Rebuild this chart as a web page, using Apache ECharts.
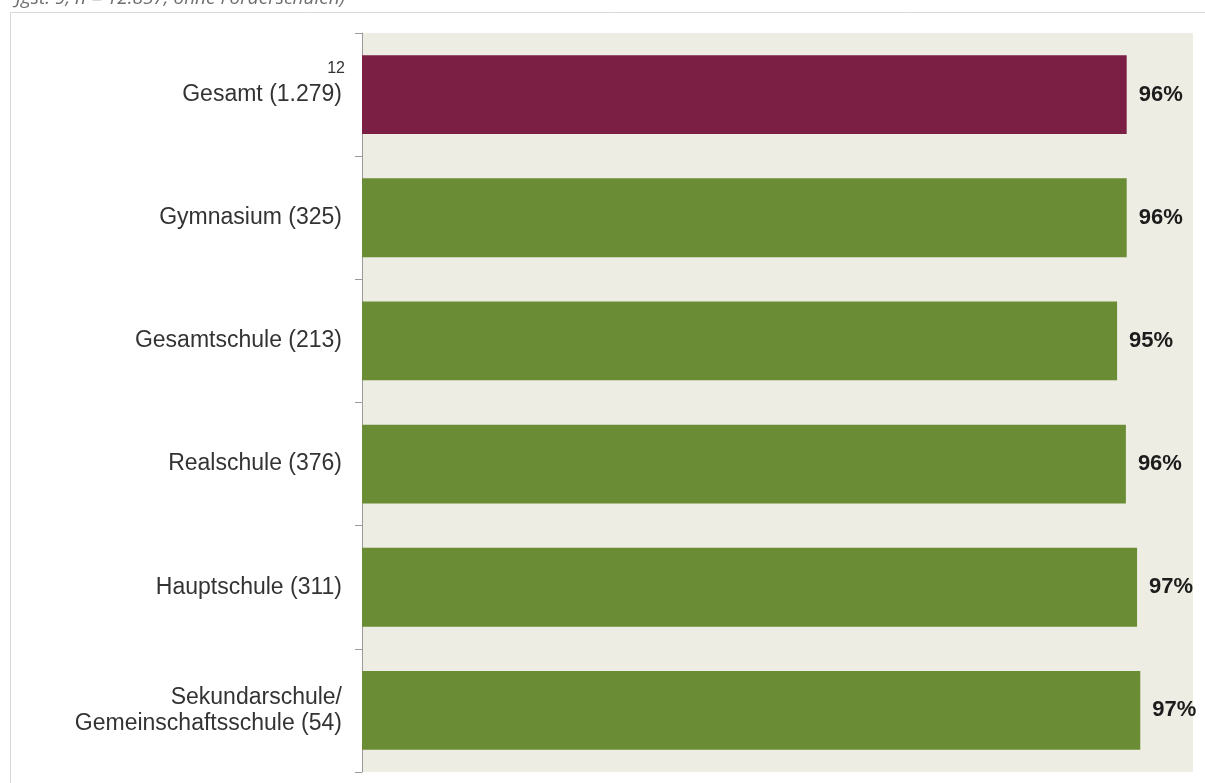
<!DOCTYPE html>
<html>
<head>
<meta charset="utf-8">
<script src="https://cdn.jsdelivr.net/npm/echarts@6/dist/echarts.min.js"></script>
<style>
  html, body { margin: 0; padding: 0; background: #ffffff; }
  #chart { width: 1205px; height: 783px; }
</style>
</head>
<body>
<div id="chart"></div>
<script>
// School types with number of respondents
const categories = ['Gesamt', 'Gymnasium', 'Gesamtschule', 'Realschule', 'Hauptschule', 'Sekundarschule/\nGemeinschaftsschule'];
const counts = ['1.279', '325', '213', '376', '311', '54'];
// Share of agreement in percent
const values = [95.7, 95.7, 94.5, 95.6, 97.0, 97.4];
// Footnote marker shown above the total row
const footnote = '12';
const subtitle = 'Jgst. 9, n = 12.857, ohne Förderschulen)';

const colorTotal = '#7b1f45';
const colorSchool = '#6a8c34';
const FONT = '"Liberation Sans", Arial, Helvetica, sans-serif';

const chart = echarts.init(document.getElementById('chart'), null, { renderer: 'canvas' });

const labelNames = categories.map((c, i) => c + ' (' + counts[i] + ')');

chart.setOption({
  animation: false,
  backgroundColor: '#ffffff',
  textStyle: { fontFamily: FONT },
  graphic: [
    {
      type: 'rect',
      silent: true,
      z: -10,
      shape: { x: 10.5, y: 12.5, width: 1300, height: 900 },
      style: { fill: 'none', stroke: '#d9d9d9', lineWidth: 1 }
    },
    {
      type: 'text',
      silent: true,
      x: 345,
      y: 8,
      style: {
        text: subtitle,
        fill: '#6e6e6e',
        font: 'italic 19px "Open Sans", sans-serif',
        align: 'right',
        verticalAlign: 'bottom'
      }
    }
  ],
  grid: { left: 362, right: 12, top: 33, bottom: 11, backgroundColor: '#eeede3', show: true, borderWidth: 0 },
  xAxis: {
    type: 'value',
    min: 0,
    max: 104,
    show: false
  },
  yAxis: {
    type: 'category',
    inverse: true,
    data: labelNames,
    axisLine: { show: true, lineStyle: { color: '#9a9a9a', width: 1 } },
    axisTick: { show: true, length: 7, lineStyle: { color: '#9a9a9a' } },
    axisLabel: {
      margin: 20,
      color: '#333333',
      fontSize: 23,
      lineHeight: 26,
      fontFamily: FONT,
      align: 'right',
      formatter: function (v, idx) {
        if (idx === 0) {
          return '{sup|' + footnote + '}\n{n|' + v + '}\n{pad| }';
        }
        return v;
      },
      rich: {
        sup: { fontSize: 16, lineHeight: 26, color: '#333333', align: 'right', fontFamily: FONT, padding: [0, -3, 0, 0] },
        n: { fontSize: 23, lineHeight: 26, color: '#333333', align: 'right', fontFamily: FONT },
        pad: { fontSize: 16, lineHeight: 26 }
      }
    },
    splitLine: { show: false }
  },
  series: [{
    type: 'bar',
    barCategoryGap: '36%',
    data: values.map((v, i) => ({
      value: v,
      itemStyle: { color: i === 0 ? colorTotal : colorSchool }
    })),
    label: {
      show: true,
      position: 'right',
      distance: 12,
      color: '#1c1c1c',
      fontSize: 22,
      fontWeight: 'bold',
      fontFamily: FONT,
      formatter: p => Math.round(p.value) + '%'
    }
  }]
});
</script>
</body>
</html>
